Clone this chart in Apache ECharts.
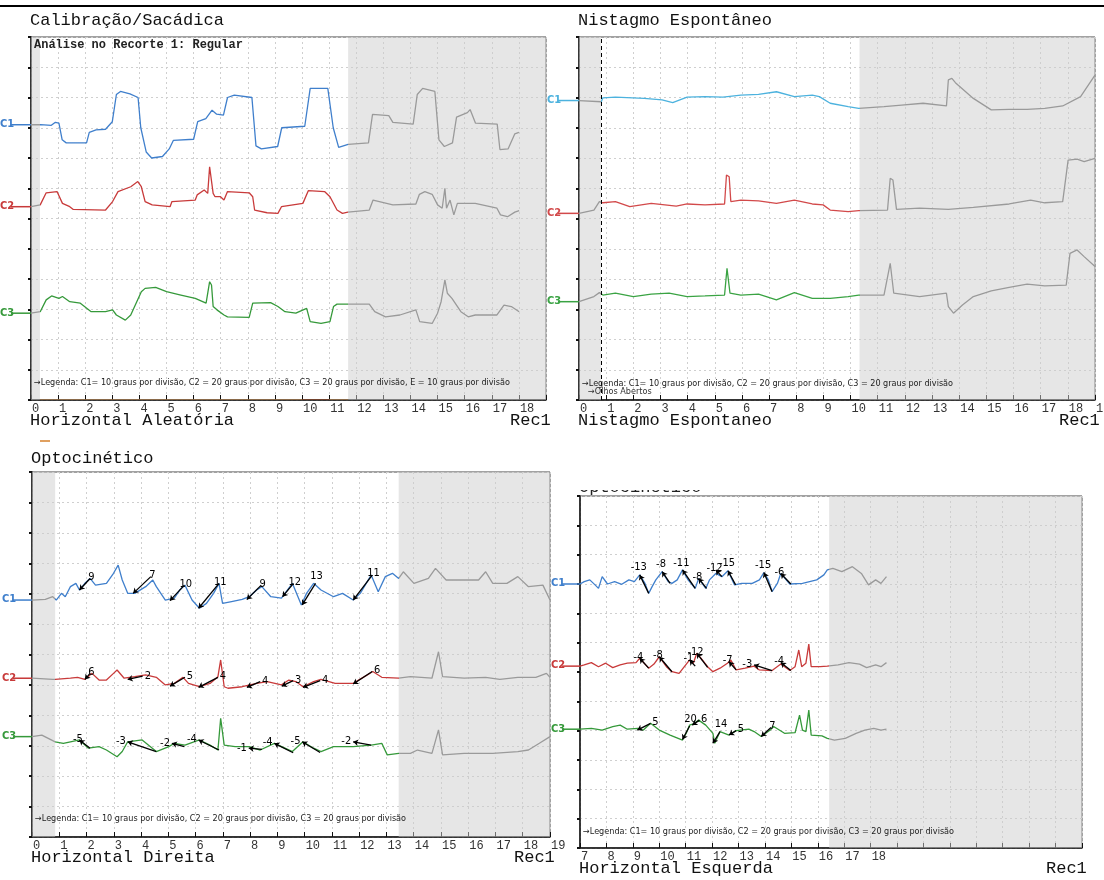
<!DOCTYPE html>
<html>
<head>
<meta charset="utf-8">
<title>Registro VENG</title>
<style>
html,body{margin:0;padding:0;background:#fff;}
#main{width:1104px;height:880px;}
</style>
</head>
<body>
<div id="main"></div>
<script src="https://cdn.jsdelivr.net/npm/echarts@6/dist/echarts.min.js"></script>
<script>
// x = tempo (s), y = divisoes (0 embaixo, 12 em cima)

// Calibracao/Sacadica - Horizontal Aleatoria
var cal_c1 = [[0,9.1],[0.35,9.1],[0.75,9.08],[0.9,9.18],[1.03,9.15],[1.15,8.6],[1.3,8.5],[2.05,8.5],[2.15,8.85],[2.4,8.93],[2.75,8.95],[3.0,9.2],[3.15,10.1],[3.3,10.2],[3.65,10.12],[3.95,10.0],[4.05,9.0],[4.25,8.2],[4.45,8.0],[4.85,8.05],[5.1,8.3],[5.25,8.58],[6.0,8.62],[6.15,9.2],[6.45,9.3],[6.68,9.58],[6.85,9.45],[7.1,9.42],[7.25,10.0],[7.5,10.08],[8.15,10.0],[8.3,8.4],[8.5,8.3],[9.1,8.38],[9.25,9.0],[10.1,9.05],[10.3,10.3],[10.95,10.3],[11.15,9.0],[11.35,8.35],[11.7,8.45],[12.45,8.5],[12.6,9.44],[13.2,9.4],[13.35,9.18],[14.1,9.12],[14.25,10.1],[14.45,10.3],[14.9,10.2],[15.05,8.6],[15.25,8.38],[15.55,8.5],[15.7,9.35],[16.1,9.5],[16.2,9.6],[16.4,9.15],[17.2,9.12],[17.3,8.28],[17.6,8.3],[17.85,8.8],[18.0,8.85]];
var cal_c2 = [[0,6.39],[0.34,6.45],[0.56,6.85],[0.96,6.89],[1.16,6.5],[1.43,6.39],[1.56,6.3],[2.75,6.28],[3.01,6.56],[3.21,6.89],[3.68,7.05],[3.94,7.22],[4.07,7.05],[4.21,6.56],[4.47,6.45],[5.13,6.39],[5.2,6.56],[6.06,6.61],[6.13,6.78],[6.39,6.94],[6.52,6.83],[6.59,7.71],[6.66,7.66],[6.72,6.83],[6.79,6.72],[6.99,6.72],[7.12,6.61],[7.25,6.89],[8.05,6.85],[8.18,6.72],[8.25,6.28],[8.71,6.19],[9.11,6.17],[9.24,6.39],[10.03,6.5],[10.23,6.92],[10.83,6.89],[11.03,6.72],[11.29,6.28],[11.49,6.17],[11.69,6.21],[12.48,6.28],[12.62,6.61],[13.35,6.45],[14.2,6.48],[14.33,6.8],[14.53,6.89],[14.8,6.8],[15.0,6.45],[15.17,6.34],[15.27,7.0],[15.33,6.34],[15.46,6.61],[15.6,6.12],[15.73,6.5],[16.39,6.5],[17.19,6.34],[17.32,6.12],[17.58,6.06],[17.85,6.21],[18.01,6.26]];
var cal_c3 = [[0,2.87],[0.34,2.92],[0.56,3.31],[0.76,3.44],[1.03,3.36],[1.16,3.42],[1.43,3.25],[1.82,3.2],[2.22,2.92],[2.75,2.92],[3.01,2.98],[3.15,2.81],[3.48,2.64],[3.68,2.81],[4.07,3.58],[4.21,3.69],[4.6,3.72],[5.0,3.58],[5.53,3.47],[6.06,3.36],[6.46,3.2],[6.59,3.91],[6.66,3.8],[6.72,3.09],[6.86,2.98],[7.12,2.81],[7.25,2.75],[8.05,2.73],[8.18,3.2],[8.84,3.22],[9.11,3.09],[9.37,2.92],[9.77,2.87],[10.17,3.03],[10.3,2.59],[10.7,2.53],[11.03,2.59],[11.16,3.09],[11.29,3.17],[11.69,3.17],[12.48,3.17],[12.68,2.92],[13.08,2.75],[13.61,2.81],[14.2,2.98],[14.34,2.59],[14.8,2.53],[15.0,2.87],[15.13,3.25],[15.27,3.97],[15.36,3.53],[15.53,3.36],[15.86,2.92],[16.13,2.75],[16.39,2.81],[17.19,2.81],[17.45,3.14],[17.72,3.09],[18.01,2.92]];
var cal_recorte = [0, 0.33, 11.7];    // faixa cinza inicial, inicio do cinza final
var cal_selecao = [[0.33, 11.7], [10, 11]];

// Nistagmo Espontaneo
var nis_c1 = [[0,9.9],[0.82,9.86],[0.88,9.99],[1.34,10.01],[2.4,9.97],[3.06,9.92],[3.45,9.83],[3.98,10.01],[4.64,10.03],[5.3,10.01],[5.96,10.08],[6.61,10.1],[7.27,10.19],[7.93,10.03],[8.59,10.08],[8.85,10.03],[9.25,9.81],[9.91,9.7],[10.3,9.64],[11.23,9.7],[11.88,9.75],[12.67,9.81],[13.53,9.72],[13.6,10.58],[13.73,10.63],[13.86,10.49],[14.52,9.97],[15.18,9.59],[15.84,9.61],[16.5,9.61],[17.15,9.64],[17.81,9.72],[18.47,10.03],[19.0,10.74]];
var nis_c2 = [[0,6.17],[0.55,6.28],[0.75,6.56],[0.88,6.52],[1.34,6.56],[1.87,6.39],[2.66,6.5],[3.58,6.41],[3.98,6.48],[4.64,6.45],[5.36,6.48],[5.43,7.44],[5.53,7.38],[5.59,6.56],[5.96,6.61],[6.61,6.58],[7.27,6.5],[7.93,6.61],[8.59,6.48],[8.99,6.45],[9.25,6.28],[9.91,6.23],[10.3,6.26],[11.36,6.28],[11.46,7.33],[11.56,7.27],[11.69,6.3],[12.54,6.34],[13.6,6.3],[14.52,6.37],[15.84,6.48],[16.63,6.61],[17.15,6.52],[17.81,6.56],[18.01,7.93],[18.34,7.96],[18.6,7.88],[19.0,7.99]];
var nis_c3 = [[0,3.25],[0.55,3.42],[0.75,3.55],[0.88,3.47],[1.34,3.53],[2.0,3.42],[2.66,3.5],[3.32,3.53],[3.98,3.42],[4.64,3.44],[5.36,3.47],[5.45,4.35],[5.56,3.53],[5.96,3.47],[6.61,3.5],[7.27,3.31],[7.93,3.55],[8.59,3.36],[9.25,3.36],[9.91,3.42],[10.3,3.47],[11.23,3.47],[11.46,4.52],[11.59,3.53],[12.54,3.42],[13.53,3.53],[13.6,3.09],[13.79,2.87],[14.12,3.14],[14.52,3.42],[15.18,3.61],[15.84,3.72],[16.5,3.83],[17.15,3.77],[17.94,3.8],[18.08,4.85],[18.34,4.96],[18.6,4.74],[19.0,4.41]];
var nis_recorte = [0, 0.81, 10.33];
var nis_olhos = 0.83;

// Optocinetico - Horizontal Direita
var dir_c1 = [[0,7.79],[0.49,7.81],[0.76,7.9],[0.89,7.79],[1.08,8.01],[1.22,7.9],[1.41,8.23],[1.61,8.34],[1.74,8.12],[1.94,8.34],[2.13,8.5],[2.33,8.28],[2.73,8.34],[2.99,8.67],[3.16,8.94],[3.31,8.45],[3.51,8.01],[3.77,8.01],[4.17,8.23],[4.43,8.45],[4.56,8.23],[4.89,7.79],[5.22,7.85],[5.42,8.12],[5.61,8.28],[5.87,7.79],[6.14,7.52],[6.4,7.68],[6.66,8.01],[6.86,8.34],[6.99,7.68],[7.32,7.74],[7.71,7.81],[7.97,7.9],[8.24,8.12],[8.43,8.23],[8.76,7.9],[9.15,7.85],[9.55,8.34],[9.88,7.63],[10.07,8.01],[10.33,8.34],[10.6,8.12],[11.06,7.9],[11.39,8.01],[11.78,7.79],[12.04,8.01],[12.44,8.61],[12.7,8.06],[12.96,8.56],[13.22,8.67],[13.45,8.5],[13.62,8.72],[14.01,8.34],[14.54,8.5],[14.8,8.83],[15.19,8.45],[15.85,8.45],[16.38,8.45],[16.64,8.72],[16.9,8.34],[17.42,8.34],[17.82,8.56],[18.21,8.23],[18.74,8.28],[19.0,7.79]];
var dir_c2 = [[0,5.22],[0.76,5.18],[0.85,5.18],[1.41,5.22],[1.67,5.25],[1.94,5.18],[2.2,5.38],[2.46,5.16],[2.73,5.16],[2.99,5.38],[3.12,5.49],[3.38,5.22],[3.77,5.27],[4.17,5.33],[4.56,5.25],[4.89,5.0],[5.22,5.05],[5.54,5.25],[5.74,5.05],[6.14,4.94],[6.53,5.05],[6.82,5.27],[6.92,5.82],[7.05,4.94],[7.19,4.89],[7.71,4.94],[8.24,5.05],[8.63,5.11],[9.15,5.0],[9.42,5.16],[9.68,5.11],[9.94,4.94],[10.33,5.11],[10.6,5.18],[11.12,5.05],[11.78,5.05],[12.3,5.33],[12.5,5.44],[12.83,5.25],[13.45,5.22],[13.88,5.27],[14.67,5.22],[14.91,6.09],[15.06,5.27],[15.85,5.22],[16.64,5.25],[17.16,5.18],[17.82,5.25],[18.48,5.25],[18.87,5.38],[19.0,5.25]];
var dir_c3 = [[0,3.3],[0.36,3.35],[0.85,3.13],[1.15,3.08],[1.41,3.13],[1.74,3.19],[2.07,2.92],[2.46,2.97],[2.73,2.86],[3.12,2.64],[3.31,2.81],[3.51,3.13],[4.04,3.19],[4.56,2.81],[5.02,2.97],[5.22,3.08],[5.61,3.02],[6.14,3.19],[6.53,3.02],[6.82,2.86],[6.92,3.9],[7.05,3.02],[7.45,2.97],[7.97,2.97],[8.37,2.86],[8.89,3.08],[9.28,2.92],[9.55,2.81],[9.94,3.13],[10.33,2.92],[10.6,2.81],[11.06,2.97],[11.78,2.97],[12.44,3.02],[12.83,3.08],[13.03,2.7],[13.45,2.75],[13.88,2.75],[14.14,2.86],[14.67,2.75],[14.91,3.52],[15.06,2.7],[15.85,2.75],[16.9,2.75],[17.82,2.81],[18.21,2.86],[18.61,3.08],[19.0,3.3]];
var dir_recorte = [0, 0.85, 13.45];
// marcacoes [x1, y1, x2, y2, valor]
var dir_marc_c1 = [[1.74,8.12,2.13,8.5,'9'],[3.71,8.01,4.36,8.56,'7'],[5.06,7.77,5.59,8.28,'10'],[6.11,7.52,6.86,8.34,'11'],[7.88,7.81,8.41,8.28,'9'],[9.19,7.9,9.59,8.34,'12'],[9.91,7.63,10.4,8.34,'13'],[11.78,7.79,12.48,8.61,'11']];
var dir_marc_c2 = [[1.94,5.18,2.13,5.38,'6'],[3.51,5.18,4.06,5.29,'2'],[5.06,4.96,5.61,5.25,'5'],[6.11,4.92,6.82,5.25,'4'],[7.88,4.92,8.37,5.11,'4'],[9.16,4.96,9.58,5.14,'3'],[9.94,4.92,10.57,5.14,'4'],[11.78,5.03,12.48,5.44,'6']];
var dir_marc_c3 = [[1.74,3.19,2.13,2.92,'-5'],[3.51,3.13,4.56,2.81,'-3'],[5.13,3.08,5.59,2.97,'-2'],[6.11,3.19,6.86,2.86,'-4'],[7.95,2.92,8.43,2.88,'-1'],[8.89,3.08,9.58,2.77,'-4'],[9.91,3.13,10.57,2.78,'-5'],[11.78,3.13,12.44,3.02,'-2']];

// Optocinetico - Horizontal Esquerda
var esq_c1 = [[7.0,9.0],[7.16,9.08],[7.37,9.14],[7.57,8.97],[7.7,8.85],[7.84,9.25],[8.04,9.0],[8.31,9.08],[8.58,8.99],[8.85,9.14],[9.06,9.08],[9.26,9.31],[9.46,9.02],[9.6,8.68],[9.73,8.91],[9.87,9.14],[10.11,9.42],[10.34,9.08],[10.48,9.02],[10.68,9.14],[10.88,9.48],[11.09,9.14],[11.36,8.85],[11.49,9.19],[11.76,8.85],[11.9,9.14],[12.14,9.36],[12.37,9.25],[12.6,9.45],[12.85,8.97],[13.12,9.02],[13.52,9.02],[13.79,9.14],[13.96,9.39],[14.13,9.14],[14.27,8.74],[14.47,9.02],[14.6,9.36],[14.94,9.0],[15.42,9.02],[15.96,9.14],[16.23,9.31],[16.36,9.48],[16.57,9.53],[16.91,9.42],[17.31,9.59],[17.65,9.36],[17.92,8.97],[18.19,9.14],[18.39,9.02],[18.6,9.25]];
var esq_c2 = [[7.0,6.2],[7.16,6.24],[7.43,6.32],[7.7,6.18],[7.97,6.3],[8.24,6.15],[8.52,6.24],[8.79,6.3],[9.12,6.32],[9.26,6.47],[9.46,6.27],[9.6,6.13],[9.8,6.27],[10.0,6.52],[10.27,6.18],[10.48,6.01],[10.75,5.95],[10.95,6.18],[11.15,6.41],[11.29,6.3],[11.42,6.64],[11.63,6.41],[11.83,6.18],[12.03,6.01],[12.3,6.13],[12.58,6.3],[12.71,6.41],[12.91,6.07],[13.25,6.13],[13.59,6.2],[13.79,6.07],[14.27,6.05],[14.6,6.27],[14.94,6.05],[15.14,6.18],[15.28,6.75],[15.39,6.18],[15.55,6.3],[15.66,6.95],[15.75,6.18],[16.09,6.18],[16.36,6.2],[16.77,6.24],[17.18,6.32],[17.58,6.27],[17.85,6.15],[18.19,6.24],[18.39,6.18],[18.6,6.32]];
var esq_c3 = [[7.0,4.05],[7.43,4.08],[7.84,4.02],[8.24,4.14],[8.52,4.19],[8.79,4.05],[9.19,4.08],[9.4,4.02],[9.67,4.25],[10.0,4.02],[10.41,3.85],[10.88,3.68],[11.02,3.91],[11.15,4.19],[11.29,4.23],[11.49,4.36],[11.76,4.19],[12.03,3.91],[12.1,3.57],[12.3,3.97],[12.64,3.85],[12.91,4.0],[13.39,4.05],[13.59,3.97],[13.86,3.8],[14.2,4.02],[14.33,4.14],[14.74,3.91],[15.14,3.93],[15.31,4.53],[15.42,4.02],[15.55,3.97],[15.66,4.7],[15.75,3.85],[16.16,3.82],[16.36,3.74],[16.63,3.68],[17.04,3.74],[17.45,3.91],[17.78,4.02],[18.12,4.08],[18.39,4.02],[18.6,4.05]];
var esq_recorte = [null, null, 16.43];
var esq_marc_c1 = [[9.26,9.31,9.6,8.68,'-13'],[10.11,9.42,10.41,9.02,'-8'],[10.88,9.48,11.36,8.85,'-11'],[11.49,9.19,11.79,8.85,'-8'],[12.14,9.48,12.37,9.25,'-12'],[12.6,9.45,12.89,8.97,'-15'],[13.96,9.39,14.27,8.74,'-15'],[14.6,9.36,14.98,9.0,'-6']];
var esq_marc_c2 = [[9.26,6.47,9.6,6.13,'-4'],[10.0,6.52,10.48,6.01,'-8'],[11.15,6.41,11.36,6.2,'-1'],[11.42,6.64,11.83,6.16,'-12'],[12.64,6.35,12.91,6.07,'-7'],[13.59,6.24,14.27,6.05,'-3'],[14.6,6.32,14.98,6.05,'-4']];
var esq_marc_c3 = [[9.17,4.02,9.67,4.25,'5'],[10.88,3.7,11.15,4.16,'20'],[11.25,4.19,11.52,4.36,'6'],[12.03,3.57,12.3,3.97,'14'],[12.64,3.85,12.91,4.0,'5'],[13.86,3.8,14.23,4.11,'7']];

var CINZA = '#9a9a9a';
var MONO = '"Liberation Mono", "DejaVu Sans Mono", monospace';
var NARROW = '"Liberation Sans Narrow", "DejaVu Sans Condensed", sans-serif';
var legenda3 = '\u2192Legenda: C1= 10 graus por divis\u00e3o, C2 = 20 graus por divis\u00e3o, C3 = 20 graus por divis\u00e3o';

var paineis = [
	{ grid: {left: 31, top: 37, width: 515, height: 363}, x: [0, 19], ultimo: 18, recorte: cal_recorte,
	  tracos: [cal_c1, cal_c2, cal_c3], cores: ['#3f7fcc', '#c83a3a', '#35993a'], marcas: null,
	  titulo: 'Calibra\u00e7\u00e3o/Sac\u00e1dica', rodape: 'Horizontal Aleat\u00f3ria', rodapeY: 422, tituloY: 22,
	  legenda: legenda3 + ', E = 10 graus por divis\u00e3o', legendaY: 384, rotuloX: 0 },
	{ grid: {left: 579, top: 37, width: 516, height: 363}, x: [0, 19], ultimo: 19, recorte: nis_recorte,
	  tracos: [nis_c1, nis_c2, nis_c3], cores: ['#4cb2de', '#d2494a', '#3aa343'], marcas: null,
	  titulo: 'Nistagmo Espont\u00e2neo', rodape: 'Nistagmo Espontaneo', rodapeY: 422, tituloY: 22,
	  legenda: legenda3, legendaY: 385, rotuloX: 547 },
	{ grid: {left: 32, top: 472, width: 518, height: 365}, x: [0, 19], ultimo: 19, recorte: dir_recorte,
	  tracos: [dir_c1, dir_c2, dir_c3], cores: ['#3f7fcc', '#c83a3a', '#35993a'], marcas: [dir_marc_c1, dir_marc_c2, dir_marc_c3],
	  titulo: 'Optocin\u00e9tico', rodape: 'Horizontal Direita', rodapeY: 859, tituloY: 460,
	  legenda: legenda3, legendaY: 820, rotuloX: 2 },
	{ grid: {left: 580, top: 496, width: 502, height: 352}, x: [7, 26], ultimo: 18, recorte: esq_recorte,
	  tracos: [esq_c1, esq_c2, esq_c3], cores: ['#3f7fcc', '#c83a3a', '#35993a'], marcas: [esq_marc_c1, esq_marc_c2, esq_marc_c3],
	  titulo: null, rodape: 'Horizontal Esquerda', rodapeY: 870, tituloY: 0,
	  legenda: legenda3, legendaY: 833, rotuloX: 551 }
];

var grids = [], xAxes = [], yAxes = [], series = [], visualMaps = [], graphic = [];

graphic.push({ type: 'line', shape: {x1: 0, y1: 6, x2: 1104, y2: 6}, style: {stroke: '#000', lineWidth: 2} });

paineis.forEach(function (p, i) {
	var g = p.grid;
	grids.push({ left: g.left, top: g.top, width: g.width, height: g.height, show: true, backgroundColor: '#fff',
		borderColor: '#444', borderWidth: 1, containLabel: false, outerBoundsMode: 'none' });
	xAxes.push({
		type: 'value', gridIndex: i, min: p.x[0], max: p.x[1], interval: 1,
		axisLine: {onZero: false, lineStyle: {color: '#111', width: 1.5}},
		axisTick: {inside: true, length: 5, lineStyle: {color: '#111'}},
		axisLabel: { margin: 3, align: 'left', padding: [0, 0, 0, 1], color: '#333', fontFamily: MONO, fontSize: 12,
			hideOverlap: false,
			formatter: (function (u) { return function (v) { return v > u ? '' : String(v); }; })(p.ultimo) },
		splitLine: {show: true, lineStyle: {color: '#cfcfcf', type: [2, 3], width: 1}}
	});
	yAxes.push({
		type: 'value', gridIndex: i, min: 0, max: 12, interval: 1,
		axisLine: {lineStyle: {color: '#111', width: 1.5}},
		axisTick: {length: 3, lineStyle: {color: '#111', width: 2}},
		axisLabel: {show: false},
		splitLine: {show: true, lineStyle: {color: '#cfcfcf', type: [2, 3], width: 1}}
	});

	var areas = [];
	if (p.recorte[1] != null) areas.push([{xAxis: p.recorte[0]}, {xAxis: p.recorte[1]}]);
	areas.push([{xAxis: p.recorte[2]}, {xAxis: p.x[1]}]);

	p.tracos.forEach(function (d, k) {
		var s = {
			type: 'line', xAxisIndex: i, yAxisIndex: i, data: d, showSymbol: false, symbol: 'none',
			lineStyle: {width: 1.3}, animation: false, silent: true, z: 3
		};
		if (k === 0) {
			s.markArea = { silent: true, itemStyle: {color: 'rgba(205,205,205,0.5)'}, data: areas };
			if (i === 1) {
				s.markLine = { silent: true, symbol: 'none', label: {show: false},
					lineStyle: {color: '#000', type: [4, 3], width: 1}, data: [{xAxis: nis_olhos}] };
			}
		}
		series.push(s);
		var pecas = [];
		if (p.recorte[1] != null) pecas.push({lt: p.recorte[1], color: CINZA});
		pecas.push({gte: p.recorte[1] != null ? p.recorte[1] : p.x[0] - 1, lt: p.recorte[2], color: p.cores[k]});
		pecas.push({gte: p.recorte[2], color: CINZA});
		visualMaps.push({ show: false, type: 'piecewise', dimension: 0, seriesIndex: series.length - 1, pieces: pecas });

		// rotulo do canal a esquerda
		var yy = g.top + g.height * (1 - d[0][1] / 12);
		graphic.push({ type: 'text', left: p.rotuloX, top: yy - 6, z: 10,
			style: {text: 'C' + (k + 1), font: 'bold 11px ' + NARROW, fill: p.cores[k]} });
		graphic.push({ type: 'line', z: 10, shape: {x1: p.rotuloX + 11, y1: yy, x2: g.left, y2: yy},
			style: {stroke: p.cores[k], lineWidth: 1.5} });
	});

	if (p.marcas) {
		p.marcas.forEach(function (m) {
			series.push({
				type: 'lines', coordinateSystem: 'cartesian2d', xAxisIndex: i, yAxisIndex: i,
				symbol: ['arrow', 'none'], symbolSize: 5, silent: true, animation: false, z: 5,
				lineStyle: {color: '#000', width: 1.3, opacity: 1},
				label: {show: true, formatter: '{b}', fontFamily: NARROW, fontSize: 11, color: '#000', distance: 2},
				data: m.map(function (a) {
					var subida = a[3] > a[1];
					return { name: a[4], coords: [[a[0], a[1]], [a[2], a[3]]],
						label: {position: subida ? 'end' : 'start'} };
				})
			});
		});
	}

	if (p.titulo) {
		graphic.push({ type: 'text', left: g.left - 1, top: p.tituloY - 10,
			style: {text: p.titulo, font: '17px ' + MONO, fill: '#111'} });
	}
	graphic.push({ type: 'text', left: g.left - 1, top: p.rodapeY - 10,
		style: {text: p.rodape, font: '17px ' + MONO, fill: '#111'} });
	graphic.push({ type: 'text', left: g.left + g.width - 36, top: p.rodapeY - 10,
		style: {text: 'Rec1', font: '17px ' + MONO, fill: '#111'} });
	graphic.push({ type: 'text', left: g.left + 3, top: p.legendaY - 6, z: 10,
		style: {text: p.legenda, font: '9px ' + NARROW, fill: '#222'} });
});

// faixa selecionada no eixo do primeiro painel
series.push({
	type: 'lines', coordinateSystem: 'cartesian2d', xAxisIndex: 0, yAxisIndex: 0, silent: true, animation: false, z: 6,
	data: [
		{coords: [[cal_selecao[0][0], 0], [cal_selecao[0][1], 0]], lineStyle: {color: '#e0a060', width: 2}},
		{coords: [[cal_selecao[1][0], 0], [cal_selecao[1][1], 0]], lineStyle: {color: '#5a1a10', width: 3}}
	]
});

graphic.push({ type: 'text', left: 34, top: 39, z: 10,
	style: {text: 'An\u00e1lise no Recorte 1: Regular', font: 'bold 12px ' + MONO, fill: '#222'} });
graphic.push({ type: 'text', left: 588, top: 387, z: 10,
	style: {text: '\u2192Olhos Abertos', font: '9px ' + NARROW, fill: '#333'} });
graphic.push({ type: 'line', shape: {x1: 40, y1: 441, x2: 50, y2: 441}, style: {stroke: '#e0a060', lineWidth: 2} });
// titulo cortado do quarto painel
graphic.push({ type: 'text', left: 579, top: 479, z: 1,
	style: {text: 'Optocin\u00e9tico', font: '17px ' + MONO, fill: '#222'} });
graphic.push({ type: 'rect', shape: {x: 560, y: 460, width: 200, height: 30}, z: 2, style: {fill: '#fff'} });

var chart = echarts.init(document.getElementById('main'));
chart.setOption({
	animation: false,
	backgroundColor: '#fff',
	grid: grids,
	xAxis: xAxes,
	yAxis: yAxes,
	visualMap: visualMaps,
	series: series,
	graphic: graphic
});
</script>
</body>
</html>
